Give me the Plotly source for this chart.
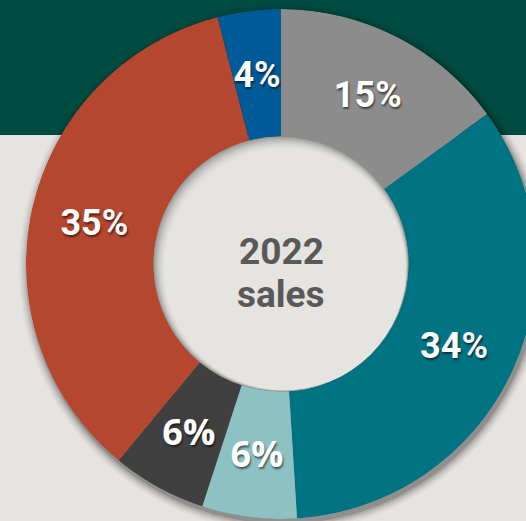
import plotly.graph_objects as go

# ---- data ----
segments = ["Segment A", "Segment B", "Segment C", "Segment D", "Segment E", "Segment F"]
shares = [15, 34, 6, 6, 35, 4]
slice_colors = ["#8C8C8C", "#007383", "#8EC1C3", "#404040", "#B5462F", "#005A97"]
label_fonts = ["Roboto", "Roboto", "Open Sans", "Open Sans", "Roboto", "Roboto"]
center_lines = ["2022", "sales"]

W, H = 540, 530
CX, CY, R = 281, 264, 255  # pixel centre / radius of the donut
TXT_DY = 4                 # label layer nudged down (px)
BG = "#E5E4E0"
BAND = "#004B40"
BAND_H = 135

px = lambda x: x / W
py = lambda y: (H - y) / H

total = sum(shares)
widths = [s / total * 360 for s in shares]
mids, acc = [], 0.0
for w in widths:
    mids.append(acc + w / 2)
    acc += w
labels_txt = [f"{s}%" for s in shares]

fig = go.Figure()
fig.add_trace(go.Barpolar(
    theta=mids, width=widths, r=[1] * len(shares), base=0,
    marker=dict(color=slice_colors, line=dict(width=0)),
    text=segments, hoverinfo="text", showlegend=False, subplot="polar",
))
fig.add_trace(go.Scatterpolar(
    theta=mids, r=[0.5] * len(shares), mode="text", text=labels_txt,
    textposition="middle center",
    textfont=dict(family=label_fonts, size=36, color="white", weight="bold",
                  shadow="1px 2px 2px rgba(0,0,0,0.55)"),
    hoverinfo="skip", showlegend=False, subplot="polar2",
))

shapes = [dict(type="rect", xref="paper", yref="paper", x0=0, x1=1,
               y0=py(BAND_H), y1=1, fillcolor=BAND, line=dict(width=0), layer="below")]

# soft drop shadow under the donut
shadow_steps = [(9, "rgba(0,0,0,0.03)"), (7, "rgba(0,0,0,0.05)"), (5, "rgba(0,0,0,0.07)"),
                (3, "rgba(0,0,0,0.11)"), (1, "rgba(0,0,0,0.16)")]
for extra, col in shadow_steps:
    shapes.append(dict(type="circle", xref="paper", yref="paper",
                       xsizemode="pixel", ysizemode="pixel",
                       xanchor=px(CX + 2), yanchor=py(CY + 4),
                       x0=-(R + extra), x1=R + extra, y0=-(R + extra), y1=R + extra,
                       fillcolor=col, line=dict(width=0), layer="below"))

# inner shadow inside the hole
HR = 127
inner = ["#A6A5A2", "#B4B3AF", "#C1C0BC", "#CCCBC7", "#D5D4D0", "#DCDBD7", "#E1E0DC", BG]
for i, col in enumerate(inner):
    s = i * 0.9
    shapes.append(dict(type="circle", xref="paper", yref="paper",
                       xsizemode="pixel", ysizemode="pixel",
                       xanchor=px(CX + s * 0.6), yanchor=py(CY + s * 0.8),
                       x0=-(HR - s), x1=HR - s, y0=-(HR - s), y1=HR - s,
                       fillcolor=col, line=dict(width=0), layer="above"))

annotations = []
for txt, yc in zip(center_lines, [251, 294]):
    annotations.append(dict(text=f"<b>{txt}</b>", xref="paper", yref="paper",
                            x=px(CX), y=py(yc), showarrow=False,
                            font=dict(family="Roboto", size=37, color="#595959")))

polar_common = dict(
    hole=0.5,
    bgcolor="rgba(0,0,0,0)",
    radialaxis=dict(visible=False, range=[0, 1], showgrid=False),
    angularaxis=dict(visible=False, rotation=90, direction="clockwise",
                     showgrid=False, showline=False, ticks=""),
)

fig.update_layout(
    width=W, height=H,
    margin=dict(l=0, r=0, t=0, b=0),
    paper_bgcolor=BG,
    plot_bgcolor=BG,
    polar=dict(domain=dict(x=[px(CX - R), px(CX + R)], y=[py(CY + R), py(CY - R)]),
               **polar_common),
    polar2=dict(domain=dict(x=[px(CX - R), px(CX + R)],
                            y=[py(CY + R + TXT_DY), py(CY - R + TXT_DY)]),
                **polar_common),
    shapes=shapes,
    annotations=annotations,
)

fig.write_html("out.html", config={"displayModeBar": False},
               post_script="document.body.style.margin='0';document.body.style.overflow='hidden';")
